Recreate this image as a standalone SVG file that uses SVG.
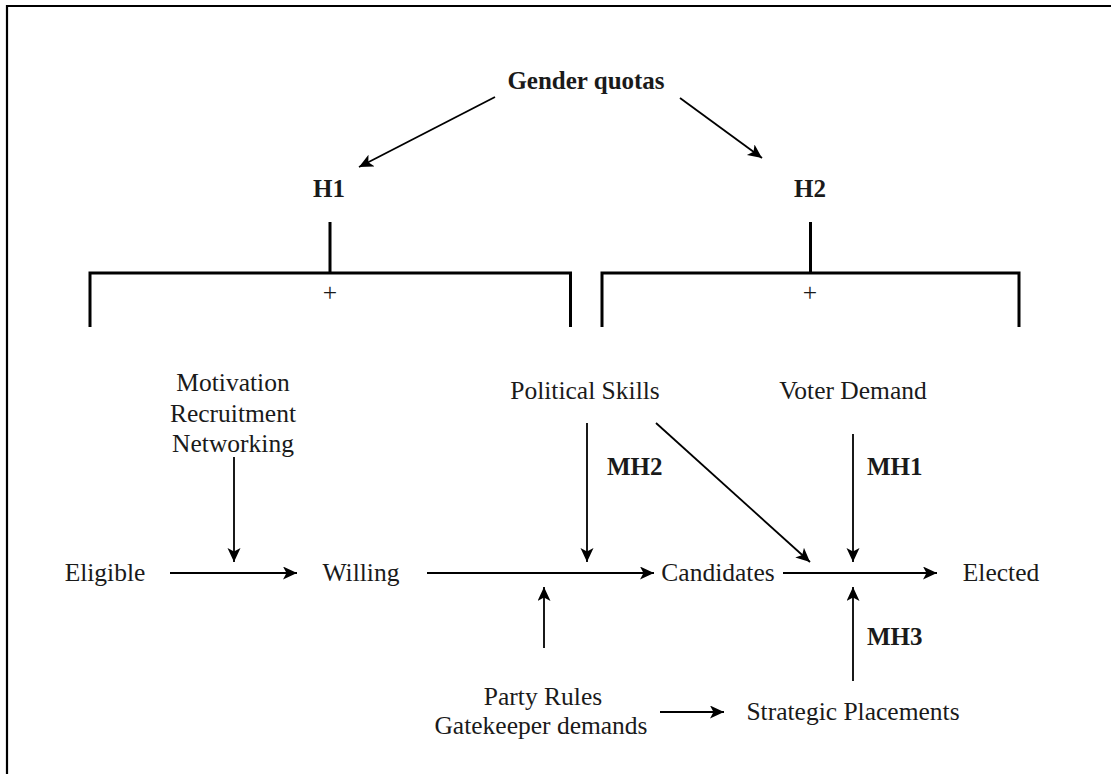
<svg xmlns="http://www.w3.org/2000/svg" width="1111" height="774" viewBox="0 0 1111 774">
<style>
  text { font-family: "Liberation Serif", "Times New Roman", serif; font-size: 25.5px; fill: #1a1a1a; text-anchor: middle; }
  .b { font-weight: bold; font-size: 25px; }
  .l { text-anchor: start; }
  .arr { stroke: #000; stroke-width: 1.8; fill: none; marker-end: url(#ah); }
  .br { stroke: #000; stroke-width: 3; fill: none; }
</style>
<defs>
  <marker id="ah" markerUnits="userSpaceOnUse" markerWidth="16" markerHeight="14" refX="14" refY="6.5" orient="auto">
    <path d="M0,0 L14,6.5 L0,13 L3.5,6.5 Z" fill="#000"/>
  </marker>
</defs>
<rect width="1111" height="774" fill="#fff"/>
<path d="M7,774 V6 H1111" stroke="#000" stroke-width="2.2" fill="none"/>

<g id="gender-quotas"><text class="b" x="586" y="89">Gender quotas</text></g>
<g id="h1">
  <text class="b" x="329" y="197">H1</text>
  <path class="br" d="M330,222 V273 M90,327 V273 H570.5 V327"/>
  <text x="330" y="301">+</text>
</g>
<g id="h2">
  <text class="b" x="810" y="197">H2</text>
  <path class="br" d="M810.5,222 V273 M602,327 V273 H1019 V327"/>
  <text x="810" y="301">+</text>
</g>
<g id="motivation">
  <text x="233" y="391">Motivation</text>
  <text x="233" y="422">Recruitment</text>
  <text x="233" y="452">Networking</text>
</g>
<g id="political-skills"><text x="585" y="399">Political Skills</text></g>
<g id="voter-demand"><text x="853" y="399">Voter Demand</text></g>
<g id="eligible"><text x="105" y="581">Eligible</text></g>
<g id="willing"><text x="361" y="581">Willing</text></g>
<g id="candidates"><text x="718" y="581">Candidates</text></g>
<g id="elected"><text x="1001" y="581">Elected</text></g>
<g id="party-rules">
  <text x="543" y="705">Party Rules</text>
  <text x="541" y="734">Gatekeeper demands</text>
</g>
<g id="strategic-placements"><text x="853" y="720">Strategic Placements</text></g>

<g id="connectors">
  <line class="arr" x1="495" y1="97" x2="359" y2="167"/>
  <line class="arr" x1="680" y1="98" x2="762" y2="158"/>
  <line class="arr" x1="234" y1="457" x2="234" y2="562"/>
  <line class="arr" x1="170" y1="573" x2="297" y2="573"/>
  <line class="arr" x1="427" y1="573" x2="654" y2="573"/>
  <line class="arr" x1="587" y1="423" x2="587" y2="562"/>
  <line class="arr" x1="656" y1="423" x2="810" y2="562"/>
  <line class="arr" x1="853" y1="434" x2="853" y2="562"/>
  <line class="arr" x1="783" y1="573" x2="937" y2="573"/>
  <line class="arr" x1="544" y1="648" x2="544" y2="587"/>
  <line class="arr" x1="853" y1="681" x2="853" y2="587"/>
  <line class="arr" x1="660" y1="712" x2="724" y2="712"/>
  <text class="b l" x="607" y="475">MH2</text>
  <text class="b l" x="867" y="475">MH1</text>
  <text class="b l" x="867" y="645">MH3</text>
</g>
</svg>
